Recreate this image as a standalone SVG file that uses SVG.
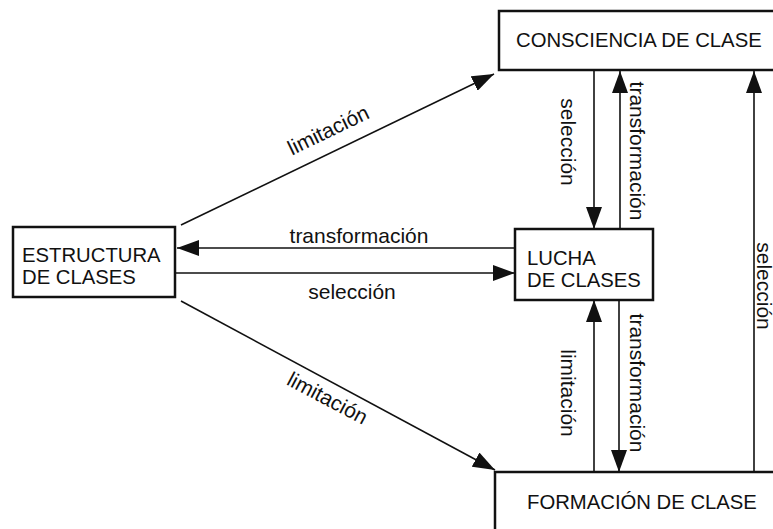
<svg xmlns="http://www.w3.org/2000/svg" width="773" height="529" viewBox="0 0 773 529">
<style>
.box{fill:#fff;stroke:#111;stroke-width:2.5}
.t{font-family:"Liberation Sans",Arial,Helvetica,sans-serif;font-size:20.3px;fill:#111}
.lbl{font-family:"Liberation Sans",Arial,Helvetica,sans-serif;font-size:21px;fill:#111;text-anchor:middle}
.ln{stroke:#111;stroke-width:1.6;fill:none;marker-end:url(#ah)}
</style>
<defs>
<marker id="ah" markerUnits="userSpaceOnUse" markerWidth="22" markerHeight="16" refX="22" refY="8" orient="auto">
<path d="M0,0 L22,8 L0,16 Z" fill="#111"/>
</marker>
</defs>
<rect width="773" height="529" fill="#fff"/>
<g id="connectors">
<line class="ln" x1="181" y1="225" x2="494" y2="74"/>
<line class="ln" x1="181" y1="301" x2="495" y2="470"/>
<line class="ln" x1="515" y1="248" x2="177" y2="248"/>
<line class="ln" x1="175" y1="273" x2="515" y2="273"/>
<line class="ln" x1="594" y1="70" x2="594" y2="229"/>
<line class="ln" x1="620" y1="229" x2="620" y2="71"/>
<line class="ln" x1="594" y1="472" x2="594" y2="300"/>
<line class="ln" x1="619" y1="300" x2="619" y2="472"/>
<line class="ln" x1="754" y1="472" x2="754" y2="71"/>
<text class="lbl" transform="translate(334,142) rotate(-25.8)" x="0" y="-6">limitación</text>
<text class="lbl" transform="translate(334,386) rotate(28)" x="0" y="21">limitación</text>
<text class="lbl" x="359" y="243">transformación</text>
<text class="lbl" x="352" y="299">selección</text>
<text class="lbl" transform="translate(567,142) rotate(90)" x="0" y="6">selección</text>
<text class="lbl" transform="translate(632,151) rotate(90)" x="0" y="2">transformación</text>
<text class="lbl" transform="translate(567,393) rotate(90)" x="0" y="6">limitación</text>
<text class="lbl" transform="translate(632,383) rotate(90)" x="0" y="2">transformación</text>
<text class="lbl" transform="translate(763,286) rotate(90)" x="0" y="6">selección</text>
</g>
<g id="consciencia">
<rect class="box" x="499" y="11" width="300" height="59"/>
<text class="t" x="516" y="47">CONSCIENCIA DE CLASE</text>
</g>
<g id="estructura">
<rect class="box" x="13" y="227" width="162" height="70"/>
<text class="t" x="22" y="262">ESTRUCTURA</text>
<text class="t" x="22" y="284">DE CLASES</text>
</g>
<g id="lucha">
<rect class="box" x="515" y="229" width="138" height="71"/>
<text class="t" x="527" y="265">LUCHA</text>
<text class="t" x="527" y="287">DE CLASES</text>
</g>
<g id="formacion">
<rect class="box" x="495" y="472" width="300" height="80"/>
<text class="t" x="527" y="509">FORMACIÓN DE CLASE</text>
</g>
</svg>
